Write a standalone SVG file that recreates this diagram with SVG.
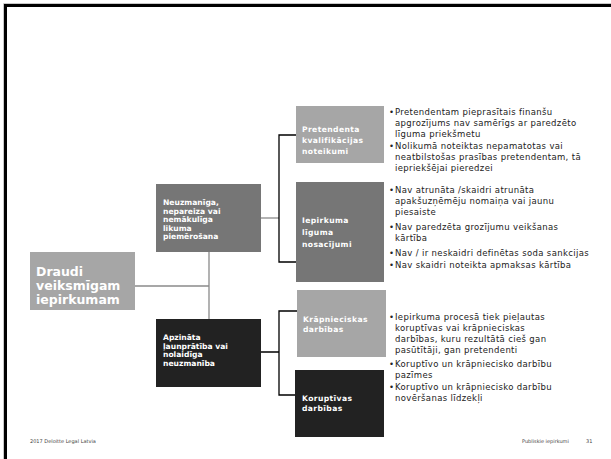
<svg xmlns="http://www.w3.org/2000/svg" width="611" height="459" viewBox="0 0 611 459">
<style>
.bt{font-family:"DejaVu Sans","Verdana",sans-serif;font-weight:bold;fill:#ffffff;font-size:7.6px}
.big{font-size:12.5px}
.bl{font-family:"DejaVu Sans","Verdana",sans-serif;font-size:8.5px;letter-spacing:0.35px;fill:#222222}
.ft{font-family:"DejaVu Sans","Verdana",sans-serif;font-size:5px;fill:#444444}
.cg{stroke:#8a8a8a;stroke-width:1.3;fill:none}
.ck{stroke:#000000;stroke-width:1.3;fill:none}
</style>
<rect width="611" height="459" fill="#ffffff"/>
<g id="frame">
<path d="M3.5,459 V3.5 H611" stroke="#c8c8c8" stroke-width="1" fill="none"/>
<path d="M5.5,459 V5.5 H611" stroke="#000000" stroke-width="3" fill="none"/>
</g>
<g id="connectors">
<path class="cg" d="M135,286 H209 M209,252 V319"/>
<path class="cg" d="M258,218 H279"/>
<path class="ck" d="M296,135 H279 V262 H296"/>
<path class="ck" d="M259,352 H279 M297,311 H279 V395 H296"/>
</g>
<g id="draudi">
<rect x="30" y="252" width="105" height="58" fill="#a6a6a6"/>
<text class="bt big" x="36"><tspan x="36" y="276">Draudi</tspan><tspan x="36" y="290">veiksmīgam</tspan><tspan x="36" y="304">iepirkumam</tspan></text>
</g>
<g id="neuzmaniga">
<rect x="156" y="184" width="105" height="68" fill="#767676"/>
<text class="bt" x="163"><tspan x="163" y="205">Neuzmanīga,</tspan><tspan x="163" y="213.5">nepareiza vai</tspan><tspan x="163" y="222">nemākulīga</tspan><tspan x="163" y="230.5">likuma</tspan><tspan x="163" y="239">piemērošana</tspan></text>
</g>
<g id="apzinata">
<rect x="156" y="319" width="105" height="68" fill="#222222"/>
<text class="bt" x="163"><tspan x="163" y="340">Apzināta</tspan><tspan x="163" y="348.5">ļaunprātība vai</tspan><tspan x="163" y="357">nolaidīga</tspan><tspan x="163" y="365.5">neuzmanība</tspan></text>
</g>
<g id="pretendenta">
<rect x="296" y="106" width="88" height="57" fill="#a6a6a6"/>
<text class="bt" x="302" style="letter-spacing:0.4px"><tspan x="302" y="132">Pretendenta</tspan><tspan x="302" y="143">kvalifikācijas</tspan><tspan x="302" y="154">noteikumi</tspan></text>
</g>
<g id="iepirkuma">
<rect x="296" y="182" width="88" height="100" fill="#767676"/>
<text class="bt" x="302" style="letter-spacing:0.4px"><tspan x="302" y="223">Iepirkuma</tspan><tspan x="302" y="235">līguma</tspan><tspan x="302" y="247">nosacījumi</tspan></text>
</g>
<g id="krapnieciskas">
<rect x="297" y="290" width="89" height="67" fill="#a6a6a6"/>
<text class="bt" x="303" style="letter-spacing:0.4px"><tspan x="303" y="322">Krāpnieciskas</tspan><tspan x="303" y="332">darbības</tspan></text>
</g>
<g id="koruptivas">
<rect x="295" y="370" width="89" height="67" fill="#222222"/>
<text class="bt" x="302" style="letter-spacing:0.4px"><tspan x="302" y="401">Koruptīvas</tspan><tspan x="302" y="411">darbības</tspan></text>
</g>
<g id="bullets-top">
<text class="bl"><tspan x="389" y="115">•</tspan><tspan x="395" y="115">Pretendentam  pieprasītais finanšu</tspan><tspan x="395" y="126">apgrozījums nav samērīgs ar paredzēto</tspan><tspan x="395" y="137">līguma priekšmetu</tspan><tspan x="389" y="148.5">•</tspan><tspan x="395" y="148.5">Nolikumā noteiktas nepamatotas vai</tspan><tspan x="395" y="159.5">neatbilstošas prasības pretendentam, tā</tspan><tspan x="395" y="170.5">iepriekšējai pieredzei</tspan></text>
</g>
<g id="bullets-mid">
<text class="bl"><tspan x="389" y="193">•</tspan><tspan x="395" y="193">Nav atrunāta /skaidri atrunāta</tspan><tspan x="395" y="204">apakšuzņēmēju nomaiņa vai jaunu</tspan><tspan x="395" y="215">piesaiste</tspan><tspan x="389" y="230">•</tspan><tspan x="395" y="230">Nav paredzēta grozījumu veikšanas</tspan><tspan x="395" y="241">kārtība</tspan><tspan x="389" y="256">•</tspan><tspan x="395" y="256">Nav / ir neskaidri definētas soda sankcijas</tspan><tspan x="389" y="268">•</tspan><tspan x="395" y="268">Nav skaidri noteikta apmaksas kārtība</tspan></text>
</g>
<g id="bullets-bottom">
<text class="bl"><tspan x="389" y="320">•</tspan><tspan x="395" y="320">Iepirkuma procesā tiek pieļautas</tspan><tspan x="395" y="331">koruptīvas vai krāpnieciskas</tspan><tspan x="395" y="342">darbības, kuru rezultātā cieš gan</tspan><tspan x="395" y="353">pasūtītāji, gan pretendenti</tspan><tspan x="389" y="367">•</tspan><tspan x="395" y="367">Koruptīvo un krāpniecisko darbību</tspan><tspan x="395" y="378">pazīmes</tspan><tspan x="389" y="390">•</tspan><tspan x="395" y="390">Koruptīvo un krāpniecisko darbību</tspan><tspan x="395" y="401">novēršanas līdzekļi</tspan></text>
</g>
<g id="footer">
<text class="ft" x="30" y="443">2017 Deloitte Legal Latvia</text>
<text class="ft" x="522" y="443">Publiskie iepirkumi</text>
<text class="ft" x="586" y="443">31</text>
</g>
</svg>
